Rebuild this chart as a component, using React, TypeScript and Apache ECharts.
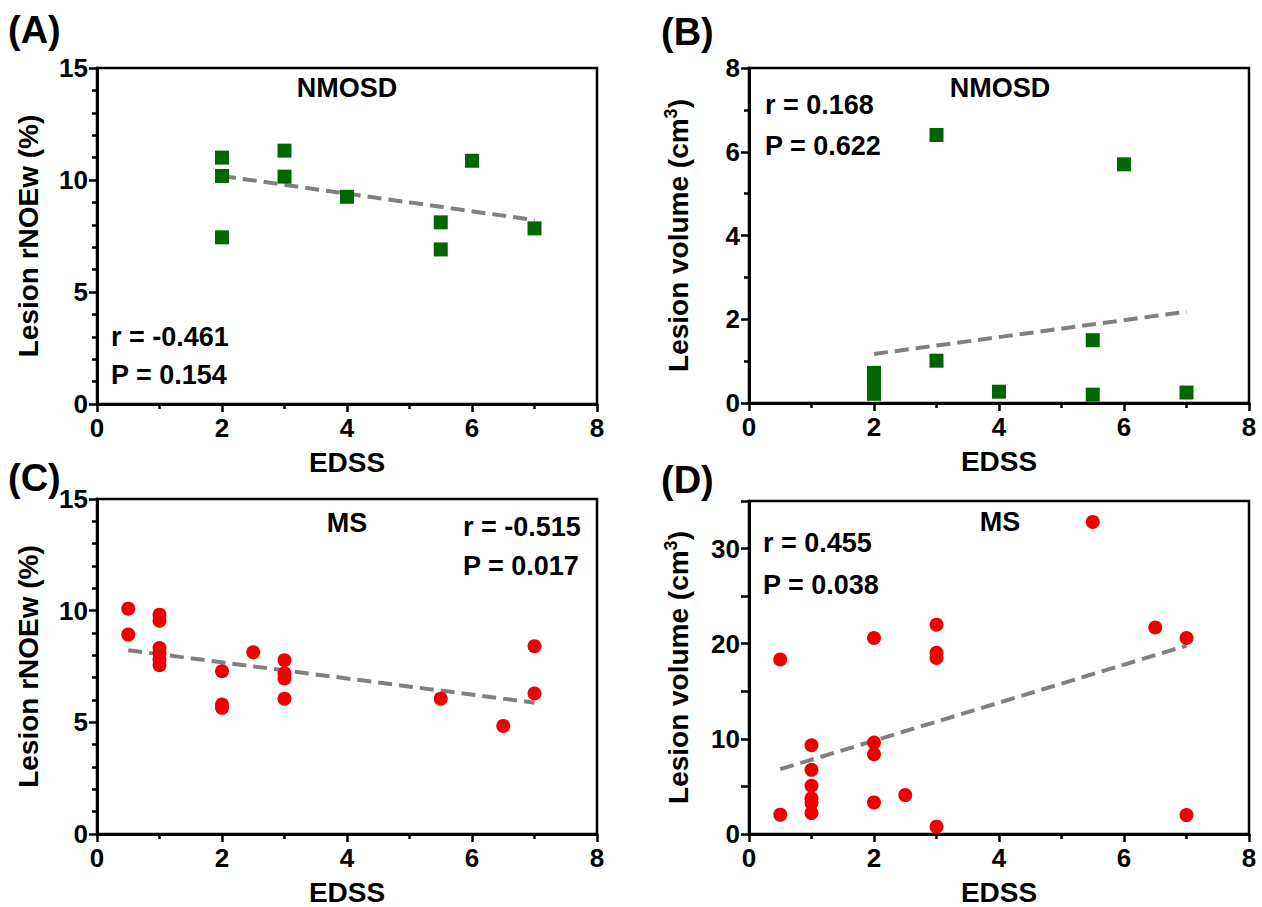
import React, { useEffect, useRef } from "react";
import * as echarts from "echarts";

// ---------- Data ----------
// Panel A: NMOSD, EDSS vs lesion rNOEw (%)
const aEdss = [2, 2, 2, 3, 3, 4, 5.5, 5.5, 6, 7];
const aNoe = [11.0, 10.18, 7.44, 11.31, 10.15, 9.25, 8.11, 6.9, 10.86, 7.84];
const aFit = [[2, 10.18], [7, 8.21]];

// Panel B: NMOSD, EDSS vs lesion volume (cm3)
const bEdss = [2, 2, 2, 3, 3, 4, 5.5, 5.5, 6, 7];
const bVol = [0.72, 0.45, 0.22, 6.4, 1.01, 0.27, 1.5, 0.2, 5.7, 0.25];
const bFit = [[2, 1.17], [7, 2.18]];

// Panel C: MS, EDSS vs lesion rNOEw (%)
const cEdss = [0.5, 0.5, 1, 1, 1, 1, 1, 1, 2, 2, 2, 2.5, 3, 3, 3, 3, 5.5, 6.5, 7, 7];
const cNoe = [10.09, 8.93, 9.82, 9.55, 8.33, 8.1, 7.81, 7.56, 7.29, 5.8, 5.65, 8.14, 7.78, 7.19, 6.96, 6.06, 6.06, 4.84, 8.41, 6.29];
const cFit = [[0.5, 8.23], [7, 5.88]];

// Panel D: MS, EDSS vs lesion volume (cm3)
const dEdss = [0.5, 0.5, 1, 1, 1, 1, 1, 1, 2, 2, 2, 2, 2.5, 3, 3, 3, 3, 5.5, 6.5, 7, 7];
const dVol = [18.34, 2.03, 9.33, 6.74, 5.07, 3.74, 3.25, 2.2, 20.6, 9.61, 8.39, 3.32, 4.09, 22.0, 19.05, 18.5, 0.77, 32.8, 21.7, 20.6, 1.99];
const dFit = [[0.5, 6.81], [7, 19.8]];

const xTicks = { min: 0, max: 8, interval: 2 };
const panelLetters = ["(A)", "(B)", "(C)", "(D)"];
const groupNames = ["NMOSD", "NMOSD", "MS", "MS"];
const statR = ["r = -0.461", "r = 0.168", "r = -0.515", "r = 0.455"];
const statP = ["P = 0.154", "P = 0.622", "P = 0.017", "P = 0.038"];
const yNames = ["Lesion rNOEw (%)", "Lesion volume (cm{sup|3})", "Lesion rNOEw (%)", "Lesion volume (cm{sup|3})"];

const FONT = "'Liberation Sans', Arial, Helvetica, sans-serif";
const GREEN = "#006600";
const RED = "#ee0000";

const zip = (xs: number[], ys: number[]) => xs.map((x, i) => [x, ys[i]]);

export default function App() {
  const ref = useRef<HTMLDivElement>(null);

  useEffect(() => {
    if (!ref.current) return;
    const chart = echarts.init(ref.current, null, { renderer: "svg" });

    const grids = [
      { left: 97, top: 68, width: 500, height: 336 },
      { left: 749, top: 68, width: 500, height: 335 },
      { left: 97, top: 499, width: 500, height: 336 },
      { left: 749, top: 501, width: 500, height: 334 },
    ].map((g) => ({ ...g, show: true, borderColor: "#000", borderWidth: 2.5, backgroundColor: "transparent" }));

    const axisLine = { show: true, lineStyle: { color: "#000", width: 3 } };
    const axisTick = { show: true, length: 8, lineStyle: { color: "#000", width: 2.5 } };
    const minorTick = (n: number) => ({ show: true, splitNumber: n, length: 5, lineStyle: { color: "#000", width: 2.5 } });
    const labelStyle = { color: "#000", fontFamily: FONT, fontWeight: "bold" as const, fontSize: 26 };
    const nameStyle = {
      color: "#000",
      fontFamily: FONT,
      fontWeight: "bold" as const,
      fontSize: 28,
      rich: {
        sup: { fontFamily: FONT, fontWeight: "bold", fontSize: 18, color: "#000", padding: [0, 0, 14, 0] },
      },
    };

    const xAxis = [0, 1, 2, 3].map((i) => ({
      type: "value",
      gridIndex: i,
      ...xTicks,
      name: "EDSS",
      nameLocation: "middle",
      nameGap: 44,
      nameTextStyle: nameStyle,
      axisLine,
      axisTick,
      minorTick: minorTick(2),
      splitLine: { show: false },
      minorSplitLine: { show: false },
      axisLabel: { ...labelStyle, margin: 11 },
    }));

    const yCfg = [
      { min: 0, max: 15, interval: 5, minor: 5 },
      { min: 0, max: 8, interval: 2, minor: 2 },
      { min: 0, max: 15, interval: 5, minor: 5 },
      { min: 0, max: 35, interval: 5, minor: 0 },
    ];
    const yAxis = yCfg.map((c, i) => ({
      type: "value",
      gridIndex: i,
      min: c.min,
      max: c.max,
      interval: c.interval,
      name: yNames[i],
      nameLocation: "middle",
      nameGap: 55,
      nameTextStyle: nameStyle,
      axisLine,
      axisTick,
      minorTick: c.minor ? minorTick(c.minor) : { show: false },
      splitLine: { show: false },
      minorSplitLine: { show: false },
      axisLabel: {
        ...labelStyle,
        margin: 9,
        formatter: i === 3 ? (v: number) => (v % 10 === 0 && v < 35 ? String(v) : "") : undefined,
      },
    }));

    const fits = [aFit, bFit, cFit, dFit];
    const pts = [zip(aEdss, aNoe), zip(bEdss, bVol), zip(cEdss, cNoe), zip(dEdss, dVol)];
    const series: any[] = [];
    fits.forEach((f, i) => {
      series.push({
        type: "line",
        xAxisIndex: i,
        yAxisIndex: i,
        data: f,
        symbol: "none",
        z: 2,
        lineStyle: { color: "#808080", width: 4, type: [14, 7] },
      });
    });
    pts.forEach((p, i) => {
      series.push({
        type: "scatter",
        xAxisIndex: i,
        yAxisIndex: i,
        data: p,
        z: 3,
        symbol: i < 2 ? "rect" : "circle",
        symbolSize: i < 2 ? 14 : 14,
        itemStyle: { color: i < 2 ? GREEN : RED, opacity: 1 },
      });
    });

    const txt = (text: string, x: number, y: number, size: number, align: string = "left") => ({
      type: "text",
      x,
      y,
      style: {
        text,
        fill: "#000",
        font: `bold ${size}px ${FONT}`,
        textAlign: align,
        textVerticalAlign: "middle",
      },
    });

    const graphic = [
      txt(panelLetters[0], 8, 30, 38),
      txt(panelLetters[1], 661, 32, 38),
      txt(panelLetters[2], 8, 478, 38),
      txt(panelLetters[3], 661, 480, 38),
      txt(groupNames[0], 347, 88, 27, "center"),
      txt(groupNames[1], 1000, 88, 27, "center"),
      txt(groupNames[2], 347, 523, 27, "center"),
      txt(groupNames[3], 1000, 522, 27, "center"),
      txt(statR[0], 111, 337, 27),
      txt(statP[0], 111, 375, 27),
      txt(statR[1], 765, 105, 27),
      txt(statP[1], 765, 146, 27),
      txt(statR[2], 463, 527, 27),
      txt(statP[2], 463, 566, 27),
      txt(statR[3], 763, 543, 27),
      txt(statP[3], 763, 585, 27),
    ];

    chart.setOption({
      animation: false,
      backgroundColor: "#fff",
      grid: grids,
      xAxis,
      yAxis,
      series,
      graphic,
    } as any);

    return () => chart.dispose();
  }, []);

  return <div ref={ref} style={{ position: "fixed", left: 0, top: 0, width: 1262, height: 907 }} />;
}
